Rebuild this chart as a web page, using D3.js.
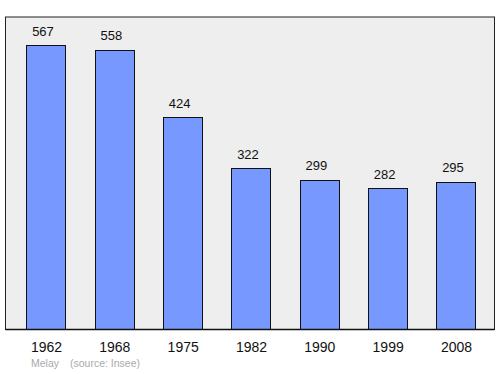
<!DOCTYPE html>
<html><head><meta charset="utf-8">
<script src="https://cdn.jsdelivr.net/npm/d3@7"></script>
<style>body{margin:0;background:#fff}svg{display:block}</style>
</head><body>
<svg id="c" width="500" height="374"></svg>
<script>
const years = ["1962","1968","1975","1982","1990","1999","2008"];
const population = [567,558,424,322,299,282,295];
const place = "Melay";
const source = "(source: Insee)";

const svg = d3.select("#c");
const pLeft = 5.5, pRight = 494.5, pTop = 17, pBottom = 329.5;
svg.append("rect").attr("x",pLeft).attr("y",pTop).attr("width",pRight-pLeft).attr("height",pBottom-pTop)
  .attr("fill","#eeeeee").attr("stroke","#222").attr("stroke-width",1);

const x = d3.scaleBand().domain(years).range([6, 496]).paddingInner(0.429).paddingOuter(0.3);
const y = d3.scaleLinear().domain([0, 567*1.1]).range([pBottom, pTop]);

svg.selectAll("rect.bar").data(population).enter().append("rect").attr("class","bar")
  .attr("x",(d,i)=>Math.round(x(years[i]))+0.5).attr("width",Math.round(x.bandwidth()))
  .attr("y",d=>Math.round(y(d))+0.5).attr("height",d=>pBottom-Math.round(y(d))-0.5)
  .attr("fill","#7799ff").attr("stroke","#111").attr("stroke-width",1);

svg.selectAll("text.val").data(population).enter().append("text").attr("class","val")
  .attr("x",(d,i)=>x(years[i])+x.bandwidth()/2-3).attr("y",d=>y(d)-9.5)
  .attr("text-anchor","middle").attr("font-family","Liberation Sans, Arial, sans-serif")
  .attr("font-size",13).attr("fill","#111").text(d=>d);

svg.append("line").attr("x1",pLeft).attr("x2",pRight).attr("y1",pBottom).attr("y2",pBottom)
  .attr("stroke","#111").attr("stroke-width",1.5);

const ax = d3.axisBottom(x).tickSize(0).tickPadding(0);
const g = svg.append("g").attr("transform",`translate(0.5,${pBottom+12.5})`).call(ax);
g.select(".domain").remove();
g.selectAll("text").attr("font-family","Liberation Sans, Arial, sans-serif").attr("font-size",14).attr("fill","#111");

svg.append("text").attr("x",31).attr("y",367).attr("font-family","Liberation Sans, Arial, sans-serif")
  .attr("font-size",10.5).attr("fill","#aaa").text(place);
svg.append("text").attr("x",70).attr("y",367).attr("font-family","Liberation Sans, Arial, sans-serif")
  .attr("font-size",10.5).attr("fill","#aaa").text(source);
</script>
</body></html>
